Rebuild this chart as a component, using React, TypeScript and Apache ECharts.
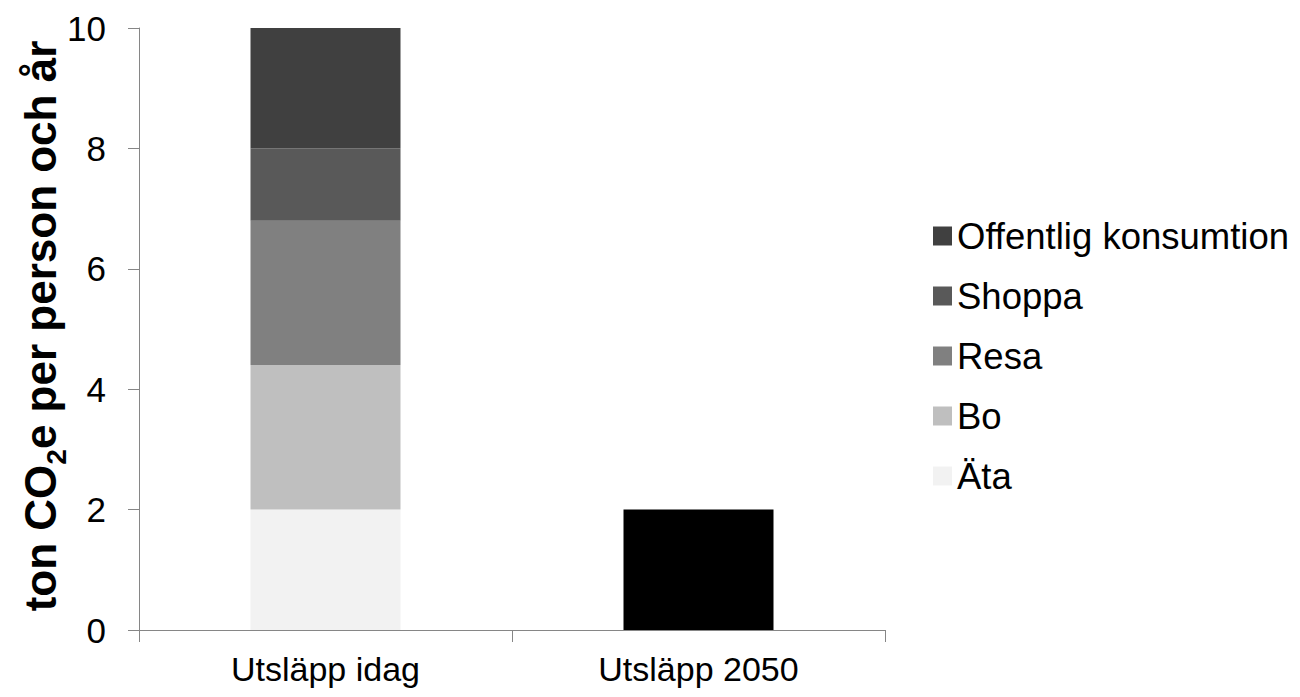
import React, { useEffect, useRef } from "react";
import * as echarts from "echarts";

// Categories on the x axis
const categories = ["Utsläpp idag", "Utsläpp 2050"];

// Today's emissions, split by area (ton CO2e per person and year)
const ata = [2.0, "-"];
const bo = [2.4, "-"];
const resa = [2.4, "-"];
const shoppa = [1.2, "-"];
const offentlig = [2.0, "-"];
// Target level for 2050
const target2050 = ["-", 2.0];

const yTicks = { min: 0, max: 10, interval: 2 };

const legendOrder = ["Offentlig konsumtion", "Shoppa", "Resa", "Bo", "Äta"];

const yTitle = "{a|ton CO}{s|2}{a|e per person och år}";

const FONT = "'Liberation Sans', Arial, sans-serif";

export default function App() {
  const ref = useRef<HTMLDivElement>(null);

  useEffect(() => {
    if (!ref.current) return;
    const chart = echarts.init(ref.current, null, { renderer: "svg" });

    const mk = (name: string, data: any[], color: string) => ({
      name,
      type: "bar",
      stack: "total",
      data,
      barWidth: 150,
      itemStyle: { color },
      emphasis: { disabled: true },
    });

    chart.setOption({
      animation: false,
      backgroundColor: "#ffffff",
      textStyle: { fontFamily: FONT },
      grid: {
        left: 139,
        right: 415,
        top: 28,
        bottom: 67,
        outerBoundsMode: "none",
      },
      legend: {
        orient: "vertical",
        left: 928,
        top: 212,
        data: legendOrder,
        icon: "rect",
        itemWidth: 19,
        itemHeight: 19,
        itemGap: 22,
        selectedMode: false,
        textStyle: {
          fontFamily: FONT,
          fontSize: 36.5,
          color: "#000",
          lineHeight: 38,
          padding: [0, 0, 0, 0],
        },
      },
      // Rotated y-axis title with a subscript "2"
      graphic: [
        {
          type: "text",
          x: 40,
          y: 326,
          rotation: Math.PI / 2,
          silent: true,
          style: {
            text: yTitle,
            align: "center",
            verticalAlign: "middle",
            rich: {
              a: {
                fontFamily: FONT,
                fontWeight: "bold",
                fontSize: 44,
                lineHeight: 60,
                fill: "#000",
                verticalAlign: "middle",
              },
              s: {
                fontFamily: FONT,
                fontWeight: "bold",
                fontSize: 28,
                lineHeight: 28,
                fill: "#000",
                verticalAlign: "bottom",
              },
            },
          },
        },
      ],
      xAxis: {
        type: "category",
        data: categories,
        axisLine: { lineStyle: { color: "#868686", width: 1 } },
        axisTick: { show: true, length: 12, lineStyle: { color: "#868686" } },
        axisLabel: {
          fontFamily: FONT,
          fontSize: 34,
          color: "#000",
          margin: 22,
        },
      },
      yAxis: {
        type: "value",
        min: yTicks.min,
        max: yTicks.max,
        interval: yTicks.interval,
        splitLine: { show: false },
        axisLine: { show: true, lineStyle: { color: "#868686", width: 1 } },
        axisTick: { show: true, length: 11, lineStyle: { color: "#868686" } },
        axisLabel: {
          fontFamily: FONT,
          fontSize: 35,
          color: "#000",
          margin: 33,
        },
      },
      series: [
        mk("Äta", ata, "#f2f2f2"),
        mk("Bo", bo, "#bfbfbf"),
        mk("Resa", resa, "#808080"),
        mk("Shoppa", shoppa, "#595959"),
        mk("Offentlig konsumtion", offentlig, "#404040"),
        mk("Utsläpp 2050", target2050, "#000000"),
      ],
    });

    return () => chart.dispose();
  }, []);

  return (
    <div
      ref={ref}
      style={{ position: "fixed", left: 0, top: 0, width: 1300, height: 697 }}
    />
  );
}
